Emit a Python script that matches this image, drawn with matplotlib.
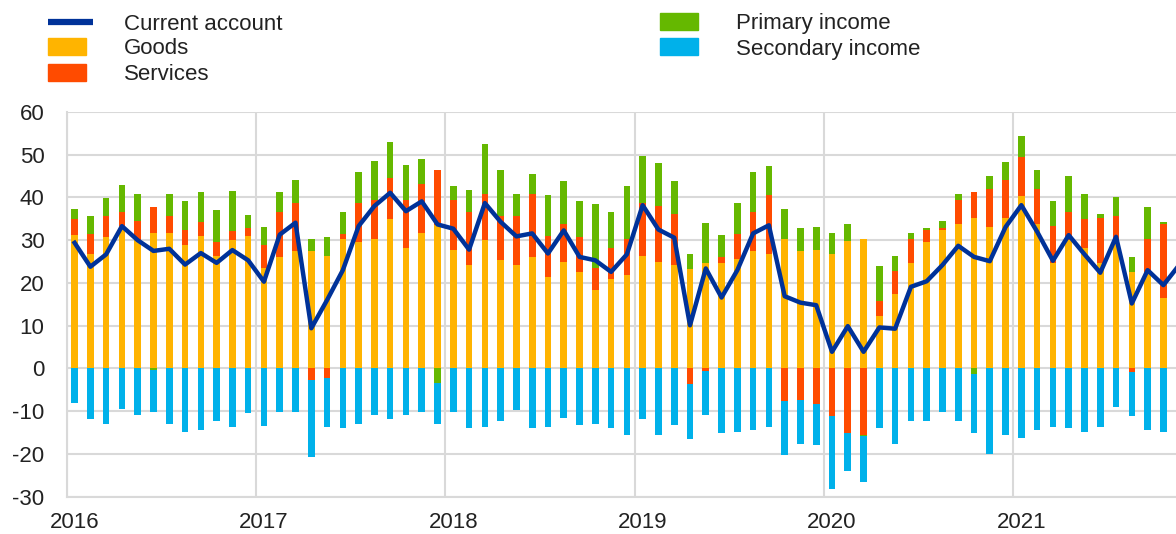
import matplotlib
matplotlib.use("Agg")
import matplotlib.pyplot as plt
from matplotlib.patches import Rectangle
from matplotlib.lines import Line2D
import numpy as np

plt.rcParams['font.family'] = ['Liberation Sans', 'DejaVu Sans']
plt.rcParams['axes.unicode_minus'] = False

# monthly data, Jan 2016 - Nov 2021 (EUR bn)
years = ['2016', '2017', '2018', '2019', '2020', '2021']

goods = [
    31.2, 26.7, 30.7, 33.3, 30.0, 31.7, 31.7, 28.8, 30.9, 26.4, 30.0, 30.9,
    23.6, 26.1, 27.4, 27.4, 26.4, 30.2, 29.6, 30.2, 34.9, 28.2, 31.7, 33.5,
    27.8, 24.3, 30.0, 25.3, 24.3, 26.1, 21.4, 24.9, 22.5, 18.3, 21.0, 21.8,
    26.4, 25.0, 24.3, 23.2, 24.6, 24.6, 25.7, 27.4, 26.7, 30.2, 27.4, 27.8,
    26.7, 29.9, 30.2, 12.3, 17.5, 24.6, 29.6, 32.5, 33.8, 35.2, 33.1, 35.2,
    40.3, 33.9, 24.6, 30.0, 28.2, 24.6, 29.2, 22.5, 22.5, 16.5, 22.0,
]
services = [
    3.7, 4.7, 4.9, 3.3, 4.5, 6.0, 3.9, 3.7, 3.3, 3.2, 2.1, 2.0,
    5.2, 10.5, 11.4, -2.7, -2.3, 1.2, 9.2, 9.3, 9.6, 11.3, 11.4, 13.0,
    11.7, 12.3, 10.9, 10.4, 11.3, 14.8, 9.6, 9.0, 8.2, 5.3, 7.2, 8.4,
    12.2, 13.1, 11.9, -3.7, -0.5, 1.4, 5.8, 9.2, 13.8, -7.6, -7.3, -8.4,
    -11.2, -15.1, -15.5, 3.4, 5.3, 5.6, 2.9, 0.4, 5.7, 6.1, 8.9, 8.9,
    9.1, 8.1, 8.8, 6.6, 6.7, 10.6, 6.4, -0.9, 7.7, 17.4, 12.0,
]
primary = [
    2.5, 4.2, 4.3, 6.4, 6.3, -0.3, 5.2, 6.6, 7.0, 7.4, 9.5, 3.0,
    4.3, 4.7, 5.2, 2.8, 4.3, 5.2, 7.1, 9.1, 8.4, 8.1, 6.0, -3.4,
    3.2, 5.1, 11.7, 10.8, 5.3, 4.7, 9.5, 9.9, 8.4, 14.8, 8.4, 12.5,
    11.1, 9.9, 7.6, 3.5, 9.5, 5.3, 7.3, 9.3, 6.8, 7.2, 5.4, 5.3,
    5.0, 3.9, -0.3, 8.2, 3.6, 1.5, 0.3, 1.6, 1.4, -1.2, 3.1, 4.3,
    5.0, 4.5, 5.8, 8.5, 5.9, 1.0, 4.5, 3.5, 7.6, 0.3, 3.5,
]
secondary = [
    -8.0, -11.9, -13.0, -9.4, -10.8, -9.8, -13.0, -14.8, -14.4, -12.3, -13.6, -10.5,
    -13.4, -10.1, -10.1, -18.1, -11.3, -14.0, -13.0, -10.8, -11.9, -10.8, -10.1, -9.6,
    -10.1, -14.0, -13.6, -12.3, -9.8, -14.0, -13.6, -11.5, -13.3, -12.9, -14.0, -15.5,
    -11.9, -15.5, -13.3, -12.7, -10.3, -15.1, -14.8, -14.4, -13.6, -12.7, -10.3, -9.6,
    -17.0, -8.8, -10.7, -14.0, -17.6, -12.3, -12.3, -10.1, -12.3, -13.8, -20.1, -15.5,
    -16.2, -14.4, -13.6, -14.0, -14.8, -13.6, -9.1, -10.3, -14.4, -14.8, -13.5,
]
current_account = [
    29.4, 23.8, 26.7, 33.3, 30.0, 27.5, 28.0, 24.3, 27.0, 24.7, 27.7, 25.3,
    20.3, 31.3, 34.1, 9.4, 16.0, 23.0, 33.3, 38.0, 41.1, 36.8, 39.1, 33.7,
    32.7, 27.8, 38.7, 34.3, 30.9, 31.6, 26.9, 32.3, 26.1, 25.3, 22.6, 26.7,
    38.2, 32.5, 30.6, 10.1, 23.4, 16.6, 23.0, 31.6, 33.5, 16.9, 15.4, 14.8,
    3.9, 9.9, 3.9, 9.6, 9.3, 19.1, 20.4, 24.2, 28.7, 26.1, 25.1, 33.1,
    38.2, 32.0, 25.2, 31.2, 26.7, 22.4, 30.8, 15.2, 23.0, 19.5, 24.2,
]

COL_CA = '#003299'
COL_GOODS = '#FFB400'
COL_SERV = '#FF4B00'
COL_PRIM = '#65B800'
COL_SEC = '#00B1EA'
GRID = '#d9d9d9'
TXT = '#222222'

W, H = 1176, 534
fig = plt.figure(figsize=(W / 100, H / 100), dpi=100)
ax = fig.add_axes([66.7 / W, 1 - 496.7 / H, (W - 66.7) / W, (496.7 - 112) / H])

x = np.arange(len(goods))
pos_base = np.zeros(len(x))
neg_base = np.zeros(len(x))
for vals, col in [(goods, COL_GOODS), (services, COL_SERV),
                  (primary, COL_PRIM), (secondary, COL_SEC)]:
    v = np.array(vals)
    bottom = np.where(v >= 0, pos_base, neg_base)
    ax.bar(x, v, bottom=bottom, width=0.42, color=col, zorder=2)
    pos_base = pos_base + np.clip(v, 0, None)
    neg_base = neg_base + np.clip(v, None, 0)

ax.plot(x, current_account, color=COL_CA, lw=3.2, zorder=3,
        solid_joinstyle='round')

ax.set_xlim(-0.5, 69.8)
ax.set_ylim(-30, 60)
ax.set_yticks(range(-30, 61, 10))
ax.set_xticks([12 * i for i in range(len(years))])
ax.set_xticklabels(years)
for i in range(len(years)):
    ax.axvline(12 * i - 0.5, color=GRID, lw=1.5, zorder=1)
ax.yaxis.grid(True, color=GRID, lw=1.5, zorder=1)
ax.set_axisbelow(True)

for s in ['top', 'right']:
    ax.spines[s].set_visible(False)
for s in ['left', 'bottom']:
    ax.spines[s].set_color(GRID)
    ax.spines[s].set_linewidth(1.5)

ax.tick_params(axis='both', length=0, labelsize=16, labelcolor=TXT)
ax.tick_params(axis='y', pad=16)
ax.tick_params(axis='x', pad=11)

# legend, drawn by hand in pixel positions
def fx(px):
    return px / W

def fy(py):
    return 1 - py / H

fig.add_artist(Line2D([fx(48), fx(93)], [fy(22), fy(22)], color=COL_CA, lw=4.5,
                      solid_capstyle='butt', transform=fig.transFigure))
patches = [(48, 38, COL_GOODS), (48, 64, COL_SERV), (660, 13, COL_PRIM), (660, 38, COL_SEC)]
for px, py, col in patches:
    fig.add_artist(Rectangle((fx(px), fy(py + 17)), 38 / W, 17 / H, color=col,
                             transform=fig.transFigure))

labels = [(124, 24, 'Current account'), (124, 49, 'Goods'), (124, 74, 'Services'),
          (736, 24, 'Primary income'), (736, 49, 'Secondary income')]
for px, py, txt in labels:
    fig.text(fx(px), fy(py), txt, fontsize=16, color=TXT, ha='left', va='center')

fig.savefig('out.png', dpi=100)
